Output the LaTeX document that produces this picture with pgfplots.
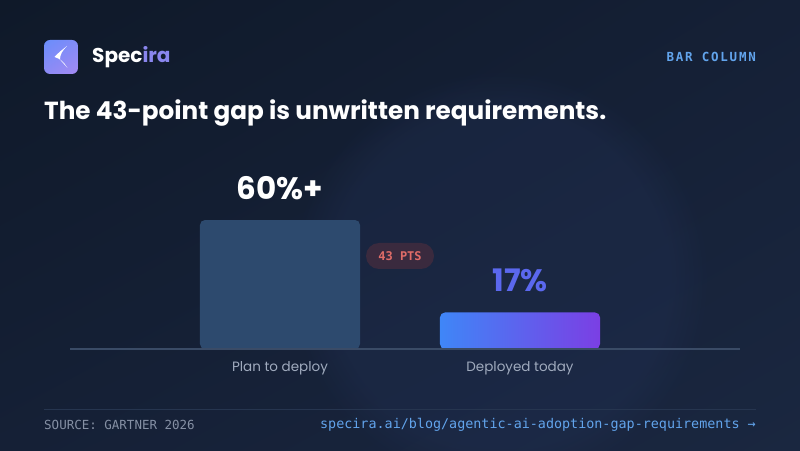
\documentclass[border=0pt]{standalone}
\usepackage{pgfplots}
\pgfplotsset{compat=1.18}
\usepackage{fontspec}
\setmainfont{Poppins}
\newfontfamily\mono{DejaVu Sans Mono}
\newfontfamily\monols{DejaVu Sans Mono}[LetterSpace=14]
\usetikzlibrary{fadings,shadings}
\definecolor{bgA}{HTML}{0F1929}
\definecolor{bgB}{HTML}{1A2740}
\definecolor{bgC}{HTML}{152036}
\definecolor{glow}{HTML}{24335A}
\definecolor{barA}{HTML}{2D4A6E}
\definecolor{gradL}{HTML}{3F86F7}
\definecolor{gradR}{HTML}{7B3FE4}
\definecolor{lbl}{HTML}{A0ABBE}
\definecolor{accent}{HTML}{62A4EC}
\definecolor{pillbg}{HTML}{3A2A3E}
\definecolor{pilltx}{HTML}{E06C68}
\definecolor{foot}{HTML}{8590A4}
\definecolor{axisc}{HTML}{3A4B66}
\definecolor{sevp}{HTML}{5B68EE}
\definecolor{logoA}{HTML}{6A8DFB}
\definecolor{logoB}{HTML}{A48AF2}
\definecolor{ira}{HTML}{8A86EE}
\definecolor{footline}{HTML}{26354F}
\begin{document}
\begin{tikzpicture}[x=1pt,y=1pt]
\useasboundingbox (0,0) rectangle (800,450);
% background
\shade[upper left=bgA, upper right=bgC, lower left=bgC, lower right=bgB] (0,0) rectangle (800,450);
\begin{scope}
\clip (0,0) rectangle (800,450);
\fill[glow, opacity=0.3, path fading=circle with fuzzy edge 20 percent] (500,170) circle (210);
\end{scope}
% logo
\shade[rounded corners=6pt, upper left=logoA, lower right=logoB, upper right=logoA!60!logoB, lower left=logoA!40!logoB] (44,376) rectangle (78,410);
\fill[white] (67,404) .. controls (62,400) and (58,397) .. (54.5,393)
  .. controls (60,391.5) and (64,388) .. (67.5,382)
  .. controls (65,385) and (62,388) .. (60,390.5)
  .. controls (60,395) and (62,399) .. cycle;
\node[anchor=west, inner sep=0pt, font=\fontsize{20}{24}\selectfont\bfseries] at (92,393) {\textcolor{white}{Spec}\textcolor{ira}{ira}};
\node[anchor=east, inner sep=0pt, font=\fontsize{12.5}{14}\monols\bfseries, text=accent] at (756,393) {BAR COLUMN};
% title
\node[anchor=west, inner sep=0pt, font=\fontsize{24.7}{28}\selectfont\bfseries, text=white] at (44,337) {The 43-point gap is unwritten requirements.};
% axis
\begin{axis}[
  at={(70pt,101pt)}, anchor=south west,
  scale only axis, width=670pt, height=189.2pt,
  xmin=-0.875, xmax=1.9167, ymin=0, ymax=88,
  axis y line=none, axis x line=bottom,
  axis line style={axisc, line width=1.5pt, -},
  axis on top, clip=false,
  xtick={0,1}, xticklabels={Plan to deploy, Deployed today},
  major tick length=0pt,
  xticklabel style={font=\fontsize{13.5}{16}\selectfont, text=lbl, yshift=-9pt},
]
\addplot[ybar, bar width=160pt, fill=barA, draw=none, rounded corners=5pt] coordinates {(0,60)};
\addplot[ybar, bar width=160pt, left color=gradL, right color=gradR, draw=none, rounded corners=5pt] coordinates {(1,17)};
\node[font=\fontsize{31}{36}\selectfont\bfseries, text=white] at (axis cs:0,60) [yshift=32pt] {60\%+};
\node[font=\fontsize{31}{36}\selectfont\bfseries, text=sevp] at (axis cs:1,17) [yshift=32pt] {17\%};
\end{axis}
% pill
\node[fill=pillbg, rounded corners=13pt, minimum width=68pt, minimum height=26pt, inner sep=0pt, font=\fontsize{12}{14}\mono\bfseries, text=pilltx] at (400,194) {43 PTS};
% footer
\draw[footline, line width=1pt] (44,41) -- (756,41);
\node[anchor=west, inner sep=0pt, font=\fontsize{12.5}{14}\mono, text=foot] at (44,25) {SOURCE: GARTNER 2026};
\node[anchor=east, inner sep=0pt, font=\fontsize{13.4}{15}\mono, text=accent] at (756,25) {specira.ai/blog/agentic-ai-adoption-gap-requirements →};
\end{tikzpicture}
\end{document}
